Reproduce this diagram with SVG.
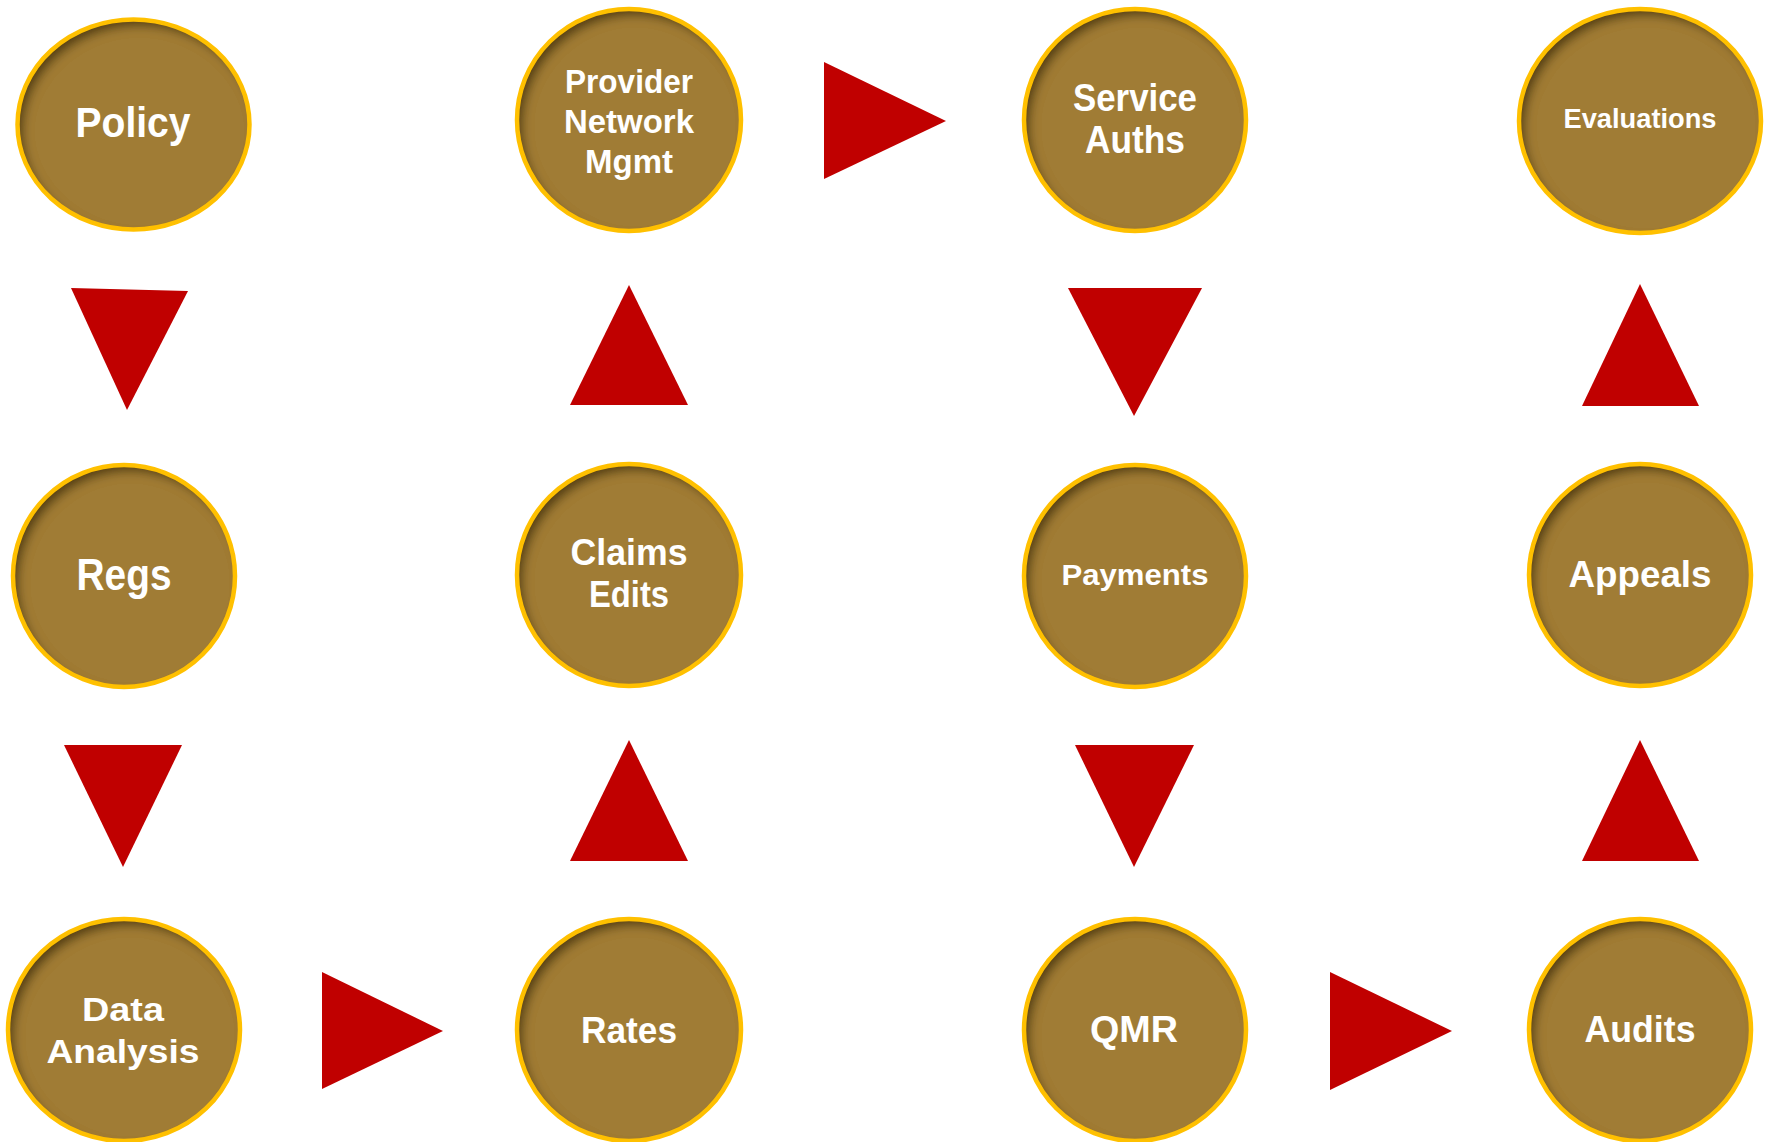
<svg xmlns="http://www.w3.org/2000/svg" width="1771" height="1142" viewBox="0 0 1771 1142">
<style>
.fill{fill:#A07C36;}
.ring{fill:none;stroke:#FFC000;stroke-width:4.5;}
.lbl{font-family:"Liberation Sans","DejaVu Sans",Arial,sans-serif;font-weight:bold;fill:#FFFFFF;text-anchor:middle;}
.tri{fill:#C00000;}
</style>
<defs>
<filter id="inner" x="-10%" y="-10%" width="120%" height="120%">
<feGaussianBlur in="SourceAlpha" stdDeviation="5" result="b"/>
<feOffset in="b" dx="6" dy="7" result="o"/>
<feComposite in="SourceAlpha" in2="o" operator="arithmetic" k2="1" k3="-1" result="edge"/>
<feFlood flood-color="#1e1405" flood-opacity="0.75"/>
<feComposite in2="edge" operator="in" result="sh"/>
<feMerge><feMergeNode in="SourceGraphic"/><feMergeNode in="sh"/></feMerge>
</filter>
</defs>
<rect width="1771" height="1142" fill="#FFFFFF"/>
<g id="connectors">
<polygon class="tri" points="71,288 188,291 127,410"/>
<polygon class="tri" points="64,745 182,745 123,867"/>
<polygon class="tri" points="322,972 322,1089 443,1031"/>
<polygon class="tri" points="570,861 688,861 629,740"/>
<polygon class="tri" points="570,405 688,405 629,285"/>
<polygon class="tri" points="824,62 824,179 946,121"/>
<polygon class="tri" points="1068,288 1202,288 1134,416"/>
<polygon class="tri" points="1075,745 1194,745 1134,867"/>
<polygon class="tri" points="1330,972 1330,1090 1452,1031"/>
<polygon class="tri" points="1582,861 1699,861 1640,740"/>
<polygon class="tri" points="1582,406 1699,406 1640,284"/>
</g>
<g id="policy">
<ellipse class="fill" filter="url(#inner)" cx="133.5" cy="124.5" rx="116" ry="105"/>
<ellipse class="ring" cx="133.5" cy="124.5" rx="116" ry="105"/>
<text class="lbl" x="133" y="137" font-size="43" textLength="115" lengthAdjust="spacingAndGlyphs">Policy</text>
</g>
<g id="provider">
<ellipse class="fill" filter="url(#inner)" cx="629" cy="120" rx="112" ry="111"/>
<ellipse class="ring" cx="629" cy="120" rx="112" ry="111"/>
<text class="lbl" x="629" y="93" font-size="33" textLength="128" lengthAdjust="spacingAndGlyphs">Provider</text>
<text class="lbl" x="629" y="133" font-size="33" textLength="130" lengthAdjust="spacingAndGlyphs">Network</text>
<text class="lbl" x="629" y="173" font-size="33" textLength="88" lengthAdjust="spacingAndGlyphs">Mgmt</text>
</g>
<g id="service-auths">
<ellipse class="fill" filter="url(#inner)" cx="1135" cy="120" rx="111" ry="111"/>
<ellipse class="ring" cx="1135" cy="120" rx="111" ry="111"/>
<text class="lbl" x="1135" y="111" font-size="38" textLength="124" lengthAdjust="spacingAndGlyphs">Service</text>
<text class="lbl" x="1135" y="153" font-size="38" textLength="100" lengthAdjust="spacingAndGlyphs">Auths</text>
</g>
<g id="evaluations">
<ellipse class="fill" filter="url(#inner)" cx="1640" cy="121" rx="121" ry="112"/>
<ellipse class="ring" cx="1640" cy="121" rx="121" ry="112"/>
<text class="lbl" x="1640" y="128" font-size="27" textLength="153" lengthAdjust="spacingAndGlyphs">Evaluations</text>
</g>
<g id="regs">
<ellipse class="fill" filter="url(#inner)" cx="124" cy="576" rx="111" ry="111"/>
<ellipse class="ring" cx="124" cy="576" rx="111" ry="111"/>
<text class="lbl" x="124" y="590" font-size="44" textLength="95" lengthAdjust="spacingAndGlyphs">Regs</text>
</g>
<g id="claims-edits">
<ellipse class="fill" filter="url(#inner)" cx="629" cy="575" rx="112" ry="111"/>
<ellipse class="ring" cx="629" cy="575" rx="112" ry="111"/>
<text class="lbl" x="629" y="565" font-size="36" textLength="117" lengthAdjust="spacingAndGlyphs">Claims</text>
<text class="lbl" x="629" y="607" font-size="36" textLength="80" lengthAdjust="spacingAndGlyphs">Edits</text>
</g>
<g id="payments">
<ellipse class="fill" filter="url(#inner)" cx="1135" cy="576" rx="111" ry="111"/>
<ellipse class="ring" cx="1135" cy="576" rx="111" ry="111"/>
<text class="lbl" x="1135" y="585" font-size="30" textLength="147" lengthAdjust="spacingAndGlyphs">Payments</text>
</g>
<g id="appeals">
<ellipse class="fill" filter="url(#inner)" cx="1640" cy="575" rx="111" ry="111"/>
<ellipse class="ring" cx="1640" cy="575" rx="111" ry="111"/>
<text class="lbl" x="1640" y="587" font-size="37" textLength="143" lengthAdjust="spacingAndGlyphs">Appeals</text>
</g>
<g id="data-analysis">
<ellipse class="fill" filter="url(#inner)" cx="124" cy="1030" rx="116" ry="111"/>
<ellipse class="ring" cx="124" cy="1030" rx="116" ry="111"/>
<text class="lbl" x="123" y="1021" font-size="34" textLength="82" lengthAdjust="spacingAndGlyphs">Data</text>
<text class="lbl" x="123" y="1063" font-size="34" textLength="153" lengthAdjust="spacingAndGlyphs">Analysis</text>
</g>
<g id="rates">
<ellipse class="fill" filter="url(#inner)" cx="629" cy="1030" rx="112" ry="111"/>
<ellipse class="ring" cx="629" cy="1030" rx="112" ry="111"/>
<text class="lbl" x="629" y="1043" font-size="37" textLength="96" lengthAdjust="spacingAndGlyphs">Rates</text>
</g>
<g id="qmr">
<ellipse class="fill" filter="url(#inner)" cx="1135" cy="1030" rx="111" ry="111"/>
<ellipse class="ring" cx="1135" cy="1030" rx="111" ry="111"/>
<text class="lbl" x="1134" y="1042" font-size="37" textLength="88" lengthAdjust="spacingAndGlyphs">QMR</text>
</g>
<g id="audits">
<ellipse class="fill" filter="url(#inner)" cx="1640" cy="1030" rx="111" ry="111"/>
<ellipse class="ring" cx="1640" cy="1030" rx="111" ry="111"/>
<text class="lbl" x="1640" y="1042" font-size="37" textLength="111" lengthAdjust="spacingAndGlyphs">Audits</text>
</g>
</svg>
